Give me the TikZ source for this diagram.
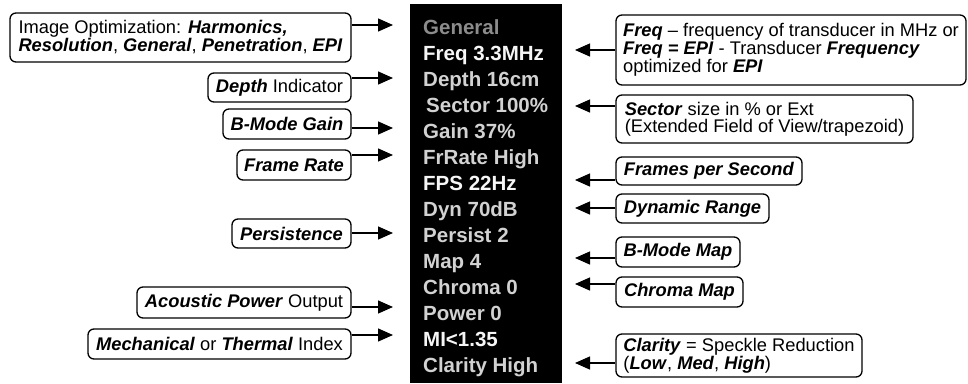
\documentclass[tikz,border=0pt]{standalone}
\usepackage{fontspec}
\setmainfont{Liberation Sans}
\usetikzlibrary{arrows.meta}
\newcommand{\bix}[1]{\textbf{\textit{#1}}}
\definecolor{pgray}{HTML}{8C8C8C}
\definecolor{plight}{HTML}{D2D2D2}
\definecolor{pwhite}{HTML}{F6F6F6}
\begin{document}
\begin{tikzpicture}[x=1pt,y=-1pt,
  lbl/.style={draw=black, line width=1.3pt, rounded corners=6pt, inner xsep=5pt, inner ysep=2pt,
              font=\fontsize{18.3}{16.6}\selectfont, align=left},
  arr/.style={line width=1.3pt, -{Triangle[length=15pt,width=13pt]}},
  ptxt/.style={anchor=base west, inner sep=0pt, font=\fontsize{20.5}{22}\selectfont\bfseries},
]
\useasboundingbox (0,0) rectangle (968,383);

% panel
\node[fill=black, draw=none, inner sep=0pt, minimum width=152pt, minimum height=379pt, anchor=north west] (panel) at (410,4) {};
\node[ptxt, text=pgray]  (p0)  at (423,34)  {General};
\node[ptxt, text=pwhite] (p1)  at (423,60)  {Freq 3.3MHz};
\node[ptxt, text=plight] (p2)  at (423,86)  {Depth 16cm};
\node[ptxt, text=plight] (p3)  at (426,112) {Sector 100\%};
\node[ptxt, text=plight] (p4)  at (423,138) {Gain 37\%};
\node[ptxt, text=plight] (p5)  at (423,164) {FrRate High};
\node[ptxt, text=pwhite] (p6)  at (423,190) {FPS 22Hz};
\node[ptxt, text=plight] (p7)  at (423,216) {Dyn 70dB};
\node[ptxt, text=plight] (p8)  at (423,242) {Persist 2};
\node[ptxt, text=plight] (p9)  at (423,268) {Map 4};
\node[ptxt, text=plight] (p10) at (423,294) {Chroma 0};
\node[ptxt, text=plight] (p11) at (423,320) {Power 0};
\node[ptxt, text=pwhite] (p12) at (423,346) {MI<1.35};
\node[ptxt, text=plight] (p13) at (423,372) {Clarity High};

% left boxes
\node[lbl, minimum width=341pt, minimum height=49pt] (L1) at (180.5,37.5)
  {Image Optimization: \bix{Harmonics,}\\\bix{Resolution}, \bix{General}, \bix{Penetration}, \bix{EPI}};
\node[lbl, minimum width=143pt, minimum height=29pt] (L2) at (279.5,87.5) {\bix{Depth} Indicator};
\node[lbl, minimum width=128pt, minimum height=30pt] (L3) at (287,124) {\bix{B-Mode Gain}};
\node[lbl, minimum width=114pt, minimum height=30pt] (L4) at (294,165) {\bix{Frame Rate}};
\node[lbl, minimum width=119pt, minimum height=29pt] (L5) at (291.5,233.5) {\bix{Persistence}};
\node[lbl, minimum width=214pt, minimum height=31pt] (L6) at (244,302.5) {\bix{Acoustic Power} Output};
\node[lbl, minimum width=263pt, minimum height=30pt] (L7) at (219.5,344) {\bix{Mechanical} or \bix{Thermal} Index};

% right boxes
\node[lbl, minimum width=350pt, minimum height=70pt] (R1) at (791,50)
  {\bix{Freq} -- frequency of transducer in MHz or\\\bix{Freq = EPI} - Transducer \bix{Frequency}\\optimized for \bix{EPI}};
\node[lbl, minimum width=297pt, minimum height=48pt] (R2) at (764.5,119)
  {\bix{Sector} size in \% or Ext\\(Extended Field of View/trapezoid)};
\node[lbl, minimum width=186pt, minimum height=28pt] (R3) at (709,171) {\bix{Frames per Second}};
\node[lbl, minimum width=153pt, minimum height=29pt] (R4) at (692.5,208.5) {\bix{Dynamic Range}};
\node[lbl, minimum width=124pt, minimum height=30pt] (R5) at (678,252) {\bix{B-Mode Map}};
\node[lbl, minimum width=127pt, minimum height=30pt] (R6) at (679.5,292) {\bix{Chroma Map}};
\node[lbl, minimum width=246pt, minimum height=43pt] (R7) at (739,355.5)
  {\bix{Clarity} = Speckle Reduction\\(\bix{Low}, \bix{Med}, \bix{High})};

% arrow tips
\coordinate (tL1) at (393,25);
\coordinate (tL2) at (393,78);
\coordinate (tL3) at (393,128);
\coordinate (tL4) at (393,155);
\coordinate (tL5) at (393,233);
\coordinate (tL6) at (393,307);
\coordinate (tL7) at (393,335);
\coordinate (tR1) at (575,50);
\coordinate (tR2) at (575,106);
\coordinate (tR3) at (575,180);
\coordinate (tR4) at (575,208);
\coordinate (tR5) at (575,258);
\coordinate (tR6) at (575,284);
\coordinate (tR7) at (575,363);

\foreach \i in {1,...,7}{
  \draw[arr] (L\i.east |- tL\i) -- (tL\i);
  \draw[arr] (R\i.west |- tR\i) -- (tR\i);
}
\end{tikzpicture}
\end{document}
